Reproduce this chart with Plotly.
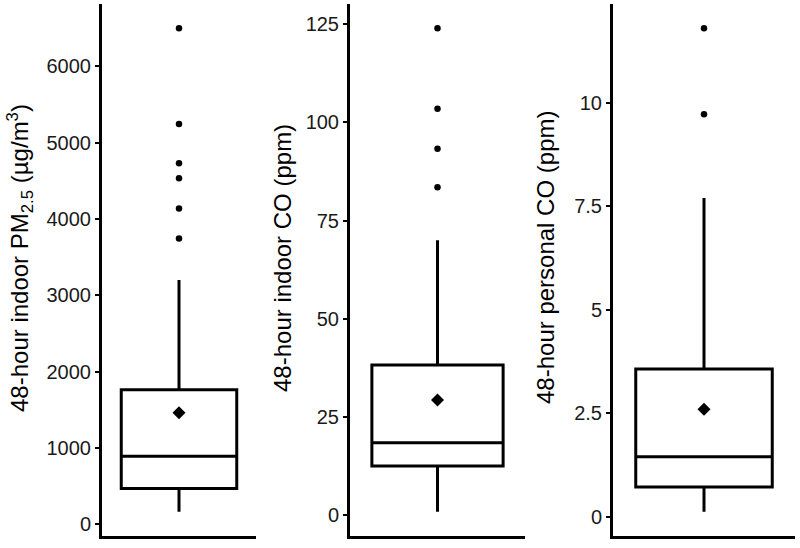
import plotly.graph_objects as go

# ---- data ----
titles = ["48-hour indoor PM<sub>2.5</sub> (µg/m<sup>3</sup>)",
          "48-hour indoor CO (ppm)",
          "48-hour personal CO (ppm)"]

pm_stats = dict(low=161, q1=468, median=888, q3=1760, high=3199, mean=1460)
pm_outliers = [3742, 4136, 4534, 4731, 5243, 6500]
pm_ticks = [0, 1000, 2000, 3000, 4000, 5000, 6000]
pm_ticktext = ["0", "1000", "2000", "3000", "4000", "5000", "6000"]

ico_stats = dict(low=0.8, q1=12.5, median=18.4, q3=38.2, high=70.0, mean=29.3)
ico_outliers = [83.5, 93.3, 103.5, 124.0]
ico_ticks = [0, 25, 50, 75, 100, 125]
ico_ticktext = ["0", "25", "50", "75", "100", "125"]

pco_stats = dict(low=0.12, q1=0.72, median=1.45, q3=3.57, high=7.7, mean=2.6)
pco_outliers = [9.72, 11.8]
pco_ticks = [0, 2.5, 5, 7.5, 10]
pco_ticktext = ["0", "2.5", "5", "7.5", "10"]

panels = [
    (pm_stats, pm_outliers, pm_ticks, pm_ticktext),
    (ico_stats, ico_outliers, ico_ticks, ico_ticktext),
    (pco_stats, pco_outliers, pco_ticks, pco_ticktext),
]

W, H = 800, 548
# plot-area pixel extents
x_px = [(102, 256), (350, 525), (613, 795)]
top_px, bottom_px = 4, 536
# axis-title centre positions (pixels)
title_x_px = [20, 282, 545]
title_y_px = 258

FONT = "Liberation Sans, Arial, sans-serif"

fig = go.Figure()
layout = dict(
    width=W, height=H,
    margin=dict(l=0, r=0, t=top_px, b=H - bottom_px, pad=0),
    paper_bgcolor="white", plot_bgcolor="white",
    showlegend=False,
    font=dict(family=FONT, color="black"),
)
annotations = []

for i, (st, outl, tv, tt) in enumerate(panels):
    n = "" if i == 0 else str(i + 1)
    xref = "x" + n
    yref = "y" + n
    fig.add_trace(go.Box(
        x=[1], q1=[st["q1"]], median=[st["median"]], q3=[st["q3"]],
        lowerfence=[st["low"]], upperfence=[st["high"]],
        width=0.9, whiskerwidth=0,
        line=dict(color="black", width=3), fillcolor="rgba(255,255,255,0)",
        boxpoints=False, xaxis=xref, yaxis=yref, hoverinfo="skip",
    ))
    fig.add_trace(go.Scatter(
        x=[1] * len(outl), y=outl, mode="markers",
        marker=dict(color="black", size=6.5, symbol="circle"),
        xaxis=xref, yaxis=yref, hoverinfo="skip",
    ))
    fig.add_trace(go.Scatter(
        x=[1], y=[st["mean"]], mode="markers",
        marker=dict(color="black", size=10, symbol="diamond"),
        xaxis=xref, yaxis=yref, hoverinfo="skip",
    ))
    lo = st["low"]
    hi = max(outl)
    pad = 0.05 * (hi - lo)
    x0, x1 = x_px[i]
    layout["xaxis" + n] = dict(
        domain=[x0 / W, x1 / W], range=[0.4, 1.6],
        showticklabels=False, ticks="", showgrid=False, zeroline=False,
        showline=True, linecolor="black", linewidth=3, anchor=yref,
        fixedrange=True,
    )
    layout["yaxis" + n] = dict(
        domain=[0, 1], range=[lo - pad, hi + pad], anchor=xref,
        tickvals=tv, ticktext=tt, ticks="outside", ticklen=4, tickwidth=2,
        tickcolor="black", showgrid=False, zeroline=False,
        showline=True, linecolor="black", linewidth=3,
        tickfont=dict(size=20, color="#1a1a1a", family=FONT),
        fixedrange=True,
    )
    annotations.append(dict(
        text=titles[i], textangle=-90, showarrow=False,
        xref="paper", yref="paper",
        x=title_x_px[i] / W,
        y=(bottom_px - title_y_px) / (bottom_px - top_px),
        xanchor="center", yanchor="middle",
        font=dict(size=24, color="black", family=FONT),
    ))

layout["annotations"] = annotations
fig.update_layout(**layout)
fig.write_html(
    "out.html",
    config={"displayModeBar": False},
    post_script="document.body.style.margin='0';document.body.style.overflow='hidden';",
)
